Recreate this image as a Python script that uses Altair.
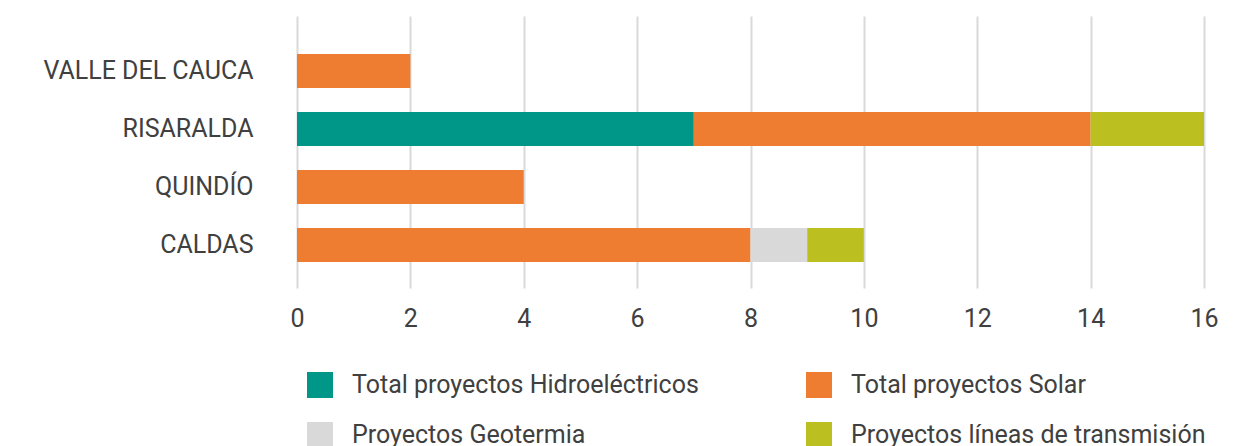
import altair as alt
import pandas as pd

departamentos = ["VALLE DEL CAUCA", "RISARALDA", "QUINDÍO", "CALDAS"]
series = [
    "Total proyectos Hidroeléctricos",
    "Total proyectos Solar",
    "Proyectos Geotermia",
    "Proyectos líneas de transmisión",
]
hidro = [0, 7, 0, 0]
solar = [2, 7, 4, 8]
geotermia = [0, 0, 0, 1]
transmision = [0, 2, 0, 1]
colores = ["#009688", "#EE7D31", "#D9D9D9", "#BBBF20"]

rows = []
for i, d in enumerate(departamentos):
    for k, vals in enumerate([hidro, solar, geotermia, transmision]):
        if vals[i] > 0:
            rows.append({"dep": d, "serie": series[k], "valor": vals[i], "orden": k})
df = pd.DataFrame(rows)

# legend is laid out column by column: order so rows read Hidro, Solar / Geo, Trans
leg_order = [0, 2, 1, 3]
leg_domain = [series[i] for i in leg_order]
leg_range = [colores[i] for i in leg_order]

FONT = "Roboto"
TXT = "#404040"
FS = 25

chart = alt.Chart(df).mark_bar().encode(
    y=alt.Y(
        "dep:N",
        sort=departamentos,
        title=None,
        scale=alt.Scale(paddingInner=0.414, paddingOuter=0.552, align=0.594),
        axis=alt.Axis(
            ticks=False, domain=False, grid=False, labelPadding=44,
            labelFontSize=FS, labelFont=FONT, labelColor=TXT, labelLimit=400,
        ),
    ),
    x=alt.X(
        "valor:Q",
        stack="zero",
        title=None,
        scale=alt.Scale(domain=[0, 16], nice=False),
        axis=alt.Axis(
            values=list(range(0, 17, 2)), ticks=False, domain=False, grid=True,
            gridColor="#D9D9D9", gridWidth=2, labelPadding=18, labelFlush=False,
            labelFontSize=FS, labelFont=FONT, labelColor=TXT,
        ),
    ),
    color=alt.Color(
        "serie:N",
        scale=alt.Scale(domain=leg_domain, range=leg_range),
        legend=alt.Legend(
            title=None, orient="none", legendX=10, legendY=356,
            columns=2, columnPadding=107, rowPadding=24,
            symbolType="square", symbolSize=676, symbolStrokeWidth=0,
            symbolOpacity=1, labelFontSize=FS, labelFont=FONT, labelColor=TXT,
            labelOffset=19, labelLimit=600,
        ),
    ),
    order=alt.Order("orden:Q"),
).properties(
    width=907,
    height=272,
    autosize=alt.AutoSizeParams(type="none"),
    padding={"left": 289, "top": 8, "right": 43, "bottom": 170},
).configure_view(stroke=None)

chart.save("out.html", embed_options={"renderer": "svg", "actions": False})
